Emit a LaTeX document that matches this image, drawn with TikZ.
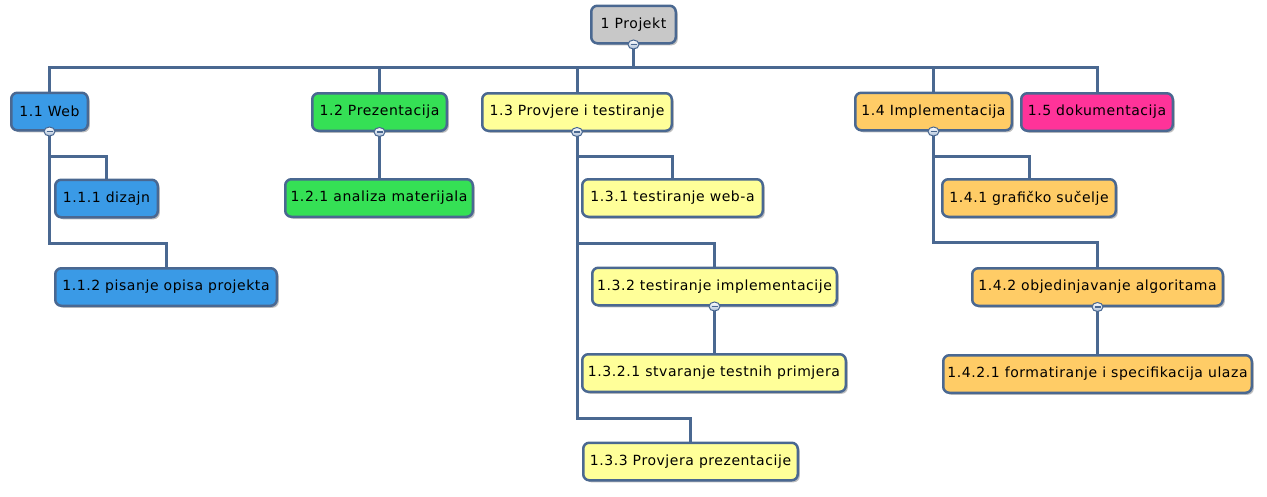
\documentclass[tikz,border=0pt]{standalone}
\usepackage{fontspec}
\setmainfont{DejaVu Sans}[LetterSpace=4]
\usetikzlibrary{shadows,shapes.geometric}
\definecolor{lc}{RGB}{74,104,145}
\definecolor{cgray}{RGB}{200,200,200}
\definecolor{cblue}{RGB}{58,154,230}
\definecolor{cgreen}{RGB}{53,224,85}
\definecolor{cyellow}{RGB}{255,255,153}
\definecolor{corange}{RGB}{255,204,102}
\definecolor{cpink}{RGB}{255,51,153}
\definecolor{cknob}{RGB}{170,190,215}
\tikzset{
  wbs/.style={draw=lc, line width=2.5pt, rounded corners=6pt, inner sep=0pt,
    minimum height=37.5pt, font=\fontsize{14}{16}\selectfont, text=black,
    drop shadow={shadow xshift=2pt, shadow yshift=-2pt, opacity=0.25, fill=black}},
  conn/.style={draw=lc, line width=3pt, line join=miter},
  knob/.style={ellipse, inner sep=0pt, minimum width=11pt, minimum height=9pt, draw=lc, line width=1pt,
    top color=white, bottom color=cknob}
}
\newcommand{\knobat}[1]{%
  \node[knob] at (#1) {};
  \draw[lc, line width=1.6pt] ([xshift=-3pt]#1) -- ([xshift=3pt]#1);}
\begin{document}
\begin{tikzpicture}[x=1pt,y=-1pt]
\useasboundingbox (0,0) rectangle (1267,496);
% nodes
\node[wbs, fill=cgray,   minimum width=84.5pt]  (P)   at (633.5,24.5) {1 Projekt};
\node[wbs, fill=cblue,   minimum width=76.5pt]  (W)   at (49.5,111.5) {1.1 Web};
\node[wbs, fill=cblue,   minimum width=102.5pt] (W1)  at (106.5,198.5) {1.1.1 dizajn};
\node[wbs, fill=cblue,   minimum width=221.5pt] (W2)  at (166,287) {1.1.2 pisanje opisa projekta};
\node[wbs, fill=cgreen,  minimum width=134.5pt] (Z)   at (379.5,112) {1.2 Prezentacija};
\node[wbs, fill=cgreen,  minimum width=187.5pt] (Z1)  at (379,198) {1.2.1 analiza materijala};
\node[wbs, fill=cyellow, minimum width=189.5pt] (T)   at (577,112) {1.3 Provjere i testiranje};
\node[wbs, fill=cyellow, minimum width=180.5pt] (T1)  at (672.5,198) {1.3.1 testiranje web-a};
\node[wbs, fill=cyellow, minimum width=244.5pt] (T2)  at (714.5,286.5) {1.3.2 testiranje implementacije};
\node[wbs, fill=cyellow, minimum width=263.5pt] (T21) at (714,373) {1.3.2.1 stvaranje testnih primjera};
\node[wbs, fill=cyellow, minimum width=214.5pt] (T3)  at (690.5,461.5) {1.3.3 Provjera prezentacije};
\node[wbs, fill=corange, minimum width=156.5pt] (I)   at (933.5,111.5) {1.4 Implementacija};
\node[wbs, fill=cpink,   minimum width=151.5pt] (D)   at (1097,112) {1.5 dokumentacija};
\node[wbs, fill=corange, minimum width=173.5pt] (I1)  at (1029,198) {1.4.1 grafičko sučelje};
\node[wbs, fill=corange, minimum width=250.5pt] (I2)  at (1097.5,287) {1.4.2 objedinjavanje algoritama};
\node[wbs, fill=corange, minimum width=308.5pt] (I21) at (1097.5,374) {1.4.2.1 formatiranje i specifikacija ulaza};
% connectors
\foreach \c in {W,Z,T,I,D}{
  \draw[conn] (P.south) -- (P.south |- 0,67) -| (\c.north);
}
\draw[conn] (W.south) -- (W.south |- 0,156) -| (W1.north);
\draw[conn] (W.south) -- (W.south |- 0,243) -| (W2.north);
\draw[conn] (Z.south) -- (Z.south |- Z1.north);
\draw[conn] (T.south) -- (T.south |- 0,156) -| (T1.north);
\draw[conn] (T.south) -- (T.south |- 0,243) -| (T2.north);
\draw[conn] (T.south) -- (T.south |- 0,418) -| (T3.north);
\draw[conn] (T2.south) -- (T2.south |- T21.north);
\draw[conn] (I.south) -- (I.south |- 0,156) -| (I1.north);
\draw[conn] (I.south) -- (I.south |- 0,242) -| (I2.north);
\draw[conn] (I2.south) -- (I2.south |- I21.north);
% knobs
\knobat{P.south}
\knobat{W.south}
\knobat{Z.south}
\knobat{T.south}
\knobat{I.south}
\knobat{T2.south}
\knobat{I2.south}
\end{tikzpicture}
\end{document}
